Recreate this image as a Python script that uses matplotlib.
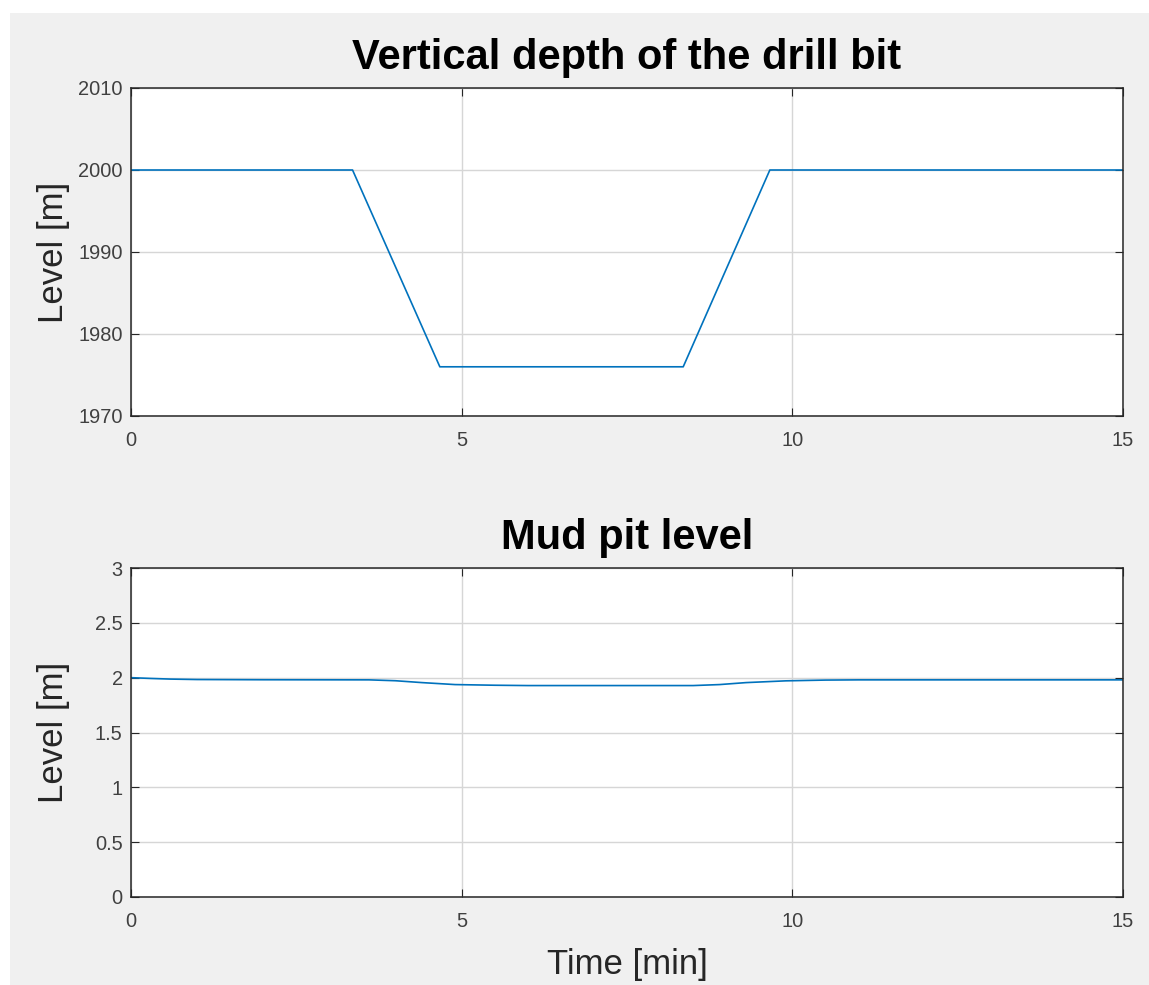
import numpy as np
import matplotlib
matplotlib.use("Agg")
import matplotlib.pyplot as plt
from matplotlib.patches import Rectangle

# ── Data ────────────────────────────────────────────────────────────────
depth_time = [0, 3.35, 4.67, 8.35, 9.66, 15]
depth_level = [2000, 2000, 1976, 1976, 2000, 2000]

pit_time = [0, 0.3, 0.6, 1.0, 2.0, 3.6, 4.0, 4.4, 4.9, 5.5, 6.0, 8.5, 8.9, 9.3, 9.9, 10.5, 11.0, 15]
pit_level = [2.0, 1.993, 1.987, 1.983, 1.981, 1.98, 1.972, 1.955, 1.937, 1.931, 1.928, 1.928,
             1.937, 1.955, 1.971, 1.978, 1.98, 1.98]

x_ticks = [0, 5, 10, 15]
depth_ticks = [1970, 1980, 1990, 2000, 2010]
pit_ticks = [0, 0.5, 1, 1.5, 2, 2.5, 3]

W, H = 1149, 985
plt.rcParams["font.family"] = ["Liberation Sans", "DejaVu Sans"]

fig = plt.figure(figsize=(W / 100, H / 100), dpi=100, facecolor="white")
# MATLAB style grey figure panel with a thin white margin top/left
fig.patches.append(Rectangle((10 / W, 0), 1 - 10 / W, 1 - 13 / H,
                             transform=fig.transFigure, facecolor="#f0f0f0",
                             edgecolor="none", zorder=-10))

line_color = "#0072BD"
spine_color = "#262626"
tick_color = "#404040"


def style_axes(ax, title, yticks, ylim):
    ax.set_facecolor("white")
    ax.set_xlim(0, 15)
    ax.set_ylim(*ylim)
    ax.set_xticks(x_ticks)
    ax.set_yticks(yticks)
    ax.set_yticklabels([f"{v:g}" for v in yticks])
    ax.grid(True, color="#d6d6d6", linewidth=1.0)
    ax.set_axisbelow(True)
    ax.tick_params(direction="in", length=6, width=0.8, color=spine_color,
                   labelsize=14.4, labelcolor=tick_color, top=True, right=True)
    ax.tick_params(axis="x", pad=11)
    ax.tick_params(axis="y", pad=6)
    for sp in ax.spines.values():
        sp.set_color(spine_color)
        sp.set_linewidth(1.1)
    ax.set_title(title, fontsize=30, fontweight="bold", pad=14)
    ax.set_ylabel("Level [m]", fontsize=25, color="#262626")
    # same label column for both panels, as in the original figure
    ax.yaxis.set_label_coords(-61 / 992, 0.5)


ax1 = fig.add_axes([131 / W, 1 - 416 / H, (1123 - 131) / W, (416 - 88) / H])
ax1.plot(depth_time, depth_level, color=line_color, linewidth=1.2)
style_axes(ax1, "Vertical depth of the drill bit", depth_ticks, (1970, 2010))

ax2 = fig.add_axes([131 / W, 1 - 897 / H, (1123 - 131) / W, (897 - 568) / H])
ax2.plot(pit_time, pit_level, color=line_color, linewidth=1.2)
style_axes(ax2, "Mud pit level", pit_ticks, (0, 3))
ax2.set_xlabel("Time [min]", fontsize=25, color="#262626", labelpad=12)

fig.savefig("out.png", dpi=100, facecolor=fig.get_facecolor())
